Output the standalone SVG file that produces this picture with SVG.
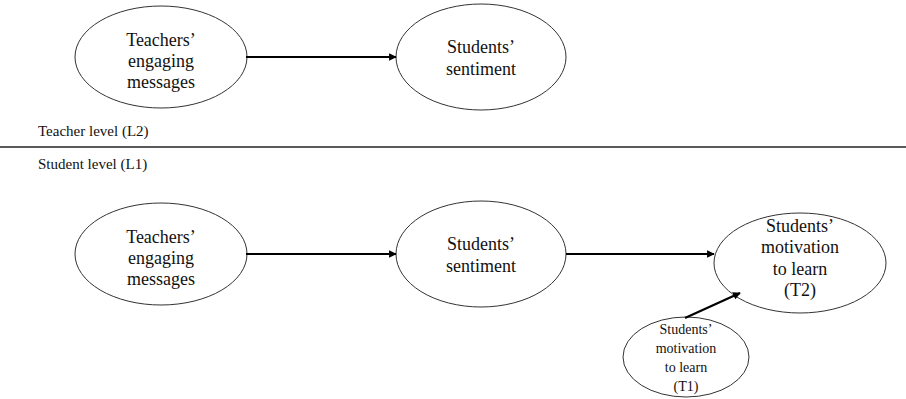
<svg xmlns="http://www.w3.org/2000/svg" width="906" height="399" viewBox="0 0 906 399">
<style>
.n{fill:#fff;stroke:#333;stroke-width:1}
.t{font-family:"Liberation Serif",serif;font-size:18px;fill:#111;text-anchor:middle}
.s{font-family:"Liberation Serif",serif;font-size:14px;fill:#111;text-anchor:middle}
.l{font-family:"Liberation Serif",serif;font-size:15px;fill:#111}
.c{stroke:#000;stroke-width:2.2;fill:none;marker-end:url(#a)}
</style>
<defs>
<marker id="a" viewBox="0 0 10 10" refX="9" refY="5" markerWidth="3.5" markerHeight="3.5" orient="auto" markerUnits="strokeWidth">
<path d="M0,0 L10,5 L0,10 z" fill="#000"/>
</marker>
</defs>
<rect width="906" height="399" fill="#fff"/>
<g id="divider">
<line x1="0" y1="147" x2="906" y2="147" stroke="#222" stroke-width="1.5"/>
<text class="l" x="38" y="136">Teacher level (L2)</text>
<text class="l" x="38" y="169">Student level (L1)</text>
</g>
<g id="n1">
<ellipse class="n" cx="161" cy="57" rx="86" ry="51"/>
<text class="t" x="161" y="46">Teachers’</text>
<text class="t" x="161" y="67">engaging</text>
<text class="t" x="161" y="88">messages</text>
</g>
<g id="n2">
<ellipse class="n" cx="481" cy="57" rx="85" ry="53"/>
<text class="t" x="481" y="53">Students’</text>
<text class="t" x="481" y="75">sentiment</text>
</g>
<g id="n3">
<ellipse class="n" cx="161" cy="254" rx="86" ry="51"/>
<text class="t" x="161" y="243">Teachers’</text>
<text class="t" x="161" y="264">engaging</text>
<text class="t" x="161" y="285">messages</text>
</g>
<g id="n4">
<ellipse class="n" cx="481" cy="254" rx="85" ry="53"/>
<text class="t" x="481" y="250">Students’</text>
<text class="t" x="481" y="272">sentiment</text>
</g>
<g id="n5">
<ellipse class="n" cx="800" cy="263" rx="86" ry="50"/>
<text class="t" x="800" y="232">Students’</text>
<text class="t" x="800" y="253">motivation</text>
<text class="t" x="800" y="275">to learn</text>
<text class="t" x="800" y="296">(T2)</text>
</g>
<g id="n6">
<ellipse class="n" cx="686" cy="357" rx="63" ry="40"/>
<text class="s" x="686" y="334">Students’</text>
<text class="s" x="686" y="353">motivation</text>
<text class="s" x="686" y="372">to learn</text>
<text class="s" x="686" y="391">(T1)</text>
</g>
<g id="connectors">
<line class="c" x1="246" y1="57" x2="396" y2="57"/>
<line class="c" x1="246" y1="254" x2="396" y2="254"/>
<line class="c" x1="566" y1="254" x2="714" y2="254"/>
<line class="c" x1="685" y1="318" x2="740" y2="293"/>
</g>
</svg>
